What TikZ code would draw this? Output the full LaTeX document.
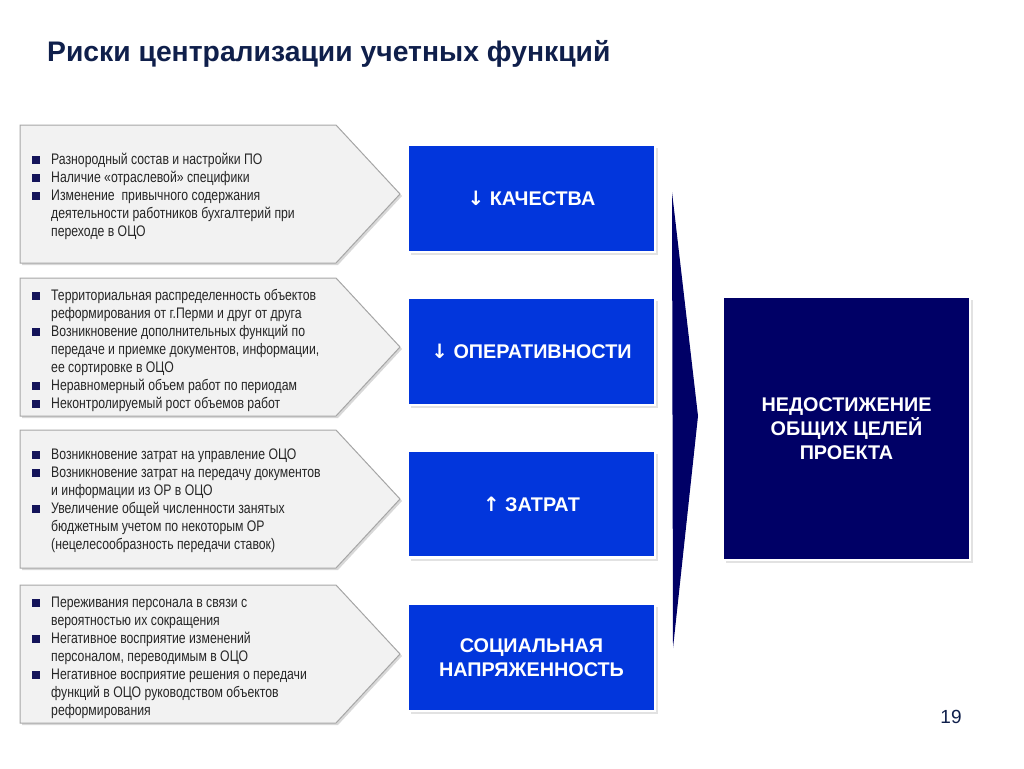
\documentclass[tikz,border=0pt]{standalone}
\usepackage{fontspec}
\setmainfont{Liberation Sans}
\newfontfamily\narrowfont[FakeStretch=0.8]{Liberation Sans}
\newfontfamily\arrowfont{DejaVu Sans}
\usetikzlibrary{shadows}

\definecolor{titlenavy}{HTML}{0F1F4B}
\definecolor{bulletnavy}{HTML}{14145A}
\definecolor{effectblue}{HTML}{0236DC}
\definecolor{goalnavy}{HTML}{000066}
\definecolor{riskfill}{HTML}{F2F2F2}
\definecolor{riskline}{HTML}{A6A6A6}

% bullet of the risk lists
\newcommand{\riskbullet}{\textcolor{bulletnavy}{\rule[0.3pt]{7.5pt}{7.5pt}}}
\newcommand{\dnarrow}{{\arrowfont\bfseries ↓}}
\newcommand{\uparr}{{\arrowfont\bfseries ↑}}

\begin{document}
\begin{tikzpicture}[x=1pt, y=-1pt,
  riskarrow/.style={draw=riskline, line width=1pt, fill=riskfill,
    drop shadow={shadow xshift=2pt, shadow yshift=-2pt, fill=gray!60}},
  risktext/.style={anchor=base west, inner sep=0pt,
    text=black!85, font=\narrowfont\fontsize{15.3}{18}\selectfont},
  effectbox/.style={fill=effectblue, draw=white, line width=2.5pt,
    minimum width=247pt, minimum height=107pt, text=white, align=center,
    font=\bfseries\fontsize{19.8}{24}\selectfont,
    drop shadow={shadow xshift=3pt, shadow yshift=-3pt, fill=gray!45}}]

\useasboundingbox (0,0) rectangle (1024,768);

% Title
\node[anchor=base west, inner sep=0pt, text=titlenavy,
  font=\bfseries\fontsize{28.3}{32}\selectfont] (title) at (47,61)
  {Риски централизации учетных функций};

% Risk arrows on the left
\draw[riskarrow] (20,125) -- (336,125) -- (400,194) -- (336,263) -- (20,263) -- cycle;
\draw[riskarrow] (20,278) -- (336,278) -- (400,347) -- (336,416) -- (20,416) -- cycle;
\draw[riskarrow] (20,430) -- (336,430) -- (400,499) -- (336,568) -- (20,568) -- cycle;
\draw[riskarrow] (20,585) -- (336,585) -- (400,654) -- (336,723) -- (20,723) -- cycle;

% Risk lists
\node[risktext] (risk1) at (32,164) {%
  \begin{tabular}[t]{@{}p{19pt}@{}l@{}}
  \riskbullet & Разнородный состав и настройки ПО\\
  \riskbullet & Наличие «отраслевой» специфики\\
  \riskbullet & Изменение\ \ привычного содержания\\
  & деятельности работников бухгалтерий при\\
  & переходе в ОЦО
  \end{tabular}};

\node[risktext] (risk2) at (32,300) {%
  \begin{tabular}[t]{@{}p{19pt}@{}l@{}}
  \riskbullet & Территориальная распределенность объектов\\
  & реформирования от г.Перми и друг от друга\\
  \riskbullet & Возникновение дополнительных функций по\\
  & передаче и приемке документов, информации,\\
  & ее сортировке в ОЦО\\
  \riskbullet & Неравномерный объем работ по периодам\\
  \riskbullet & Неконтролируемый рост объемов работ
  \end{tabular}};

\node[risktext] (risk3) at (32,459) {%
  \begin{tabular}[t]{@{}p{19pt}@{}l@{}}
  \riskbullet & Возникновение затрат на управление ОЦО\\
  \riskbullet & Возникновение затрат на передачу документов\\
  & и информации из ОР в ОЦО\\
  \riskbullet & Увеличение общей численности занятых\\
  & бюджетным учетом по некоторым ОР\\
  & (нецелесообразность передачи ставок)
  \end{tabular}};

\node[risktext] (risk4) at (32,607) {%
  \begin{tabular}[t]{@{}p{19pt}@{}l@{}}
  \riskbullet & Переживания персонала в связи с\\
  & вероятностью их сокращения\\
  \riskbullet & Негативное восприятие изменений\\
  & персоналом, переводимым в ОЦО\\
  \riskbullet & Негативное восприятие решения о передачи\\
  & функций в ОЦО руководством объектов\\
  & реформирования
  \end{tabular}};

% Effects (blue boxes)
\node[effectbox] (quality) at (531.5,198.5) {\dnarrow\ КАЧЕСТВА};
\node[effectbox] (speed) at (531.5,351.5) {\dnarrow\ ОПЕРАТИВНОСТИ};
\node[effectbox] (costs) at (531.5,504) {\uparr\ ЗАТРАТ};
\node[effectbox] (tension) at (531.5,657.5) {СОЦИАЛЬНАЯ\\НАПРЯЖЕННОСТЬ};

% Narrow chevron pointing to the result
\fill[goalnavy] (672,192) -- (698,416) -- (673,648) -- cycle;

% Result
\node[fill=goalnavy, draw=white, line width=2.5pt, minimum width=247pt,
  minimum height=263pt, text=white, align=center,
  font=\bfseries\fontsize{19.8}{24}\selectfont,
  drop shadow={shadow xshift=3pt, shadow yshift=-3pt, fill=gray!45}]
  (goal) at (846.5,428.5) {НЕДОСТИЖЕНИЕ\\ОБЩИХ ЦЕЛЕЙ\\ПРОЕКТА};

% Page number
\node[text=titlenavy, font=\fontsize{19}{22}\selectfont] (pagenum) at (951,717) {19};

\end{tikzpicture}
\end{document}
